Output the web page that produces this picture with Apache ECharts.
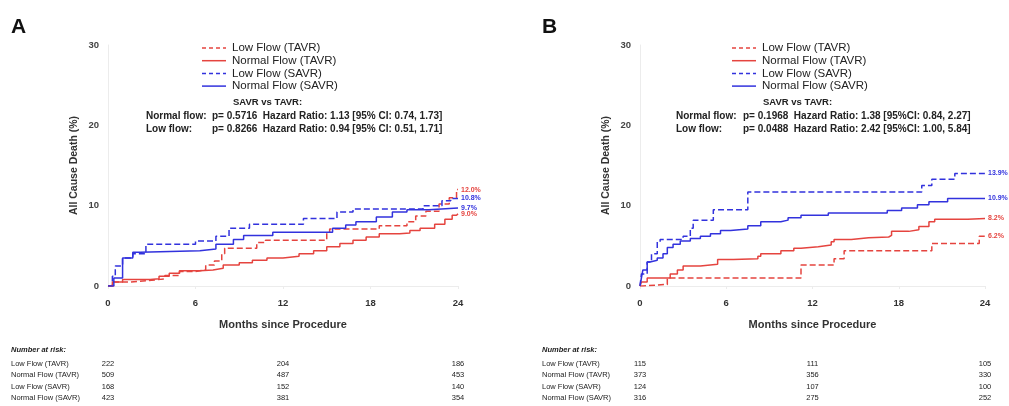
<!DOCTYPE html>
<html>
<head>
<meta charset="UTF-8">
<title>All Cause Death - TAVR vs SAVR</title>
<script src="https://cdn.jsdelivr.net/npm/echarts@6/dist/echarts.min.js"></script>
<style>
    body { margin: 0; background: #fff; }
    #root { width: 1009px; height: 406px; }
</style>
</head>
<body>
<div id="root"></div>
<script>
    // series names (legend order)
    var seriesNames = ['Low Flow (TAVR)', 'Normal Flow (TAVR)', 'Low Flow (SAVR)', 'Normal Flow (SAVR)'];

    // panel A: [month, cumulative death %]
    var aLowTavr = [[0,0],[0.4,0.5],[1.5,0.7],[3,0.9],[3.9,1.3],[4.9,1.8],[6,2.0],[6.7,2.6],[7.3,3.1],[7.8,4.0],[8.0,4.7],[10.2,5.4],[10.8,5.7],[15.0,6.7],[15.2,7.1],[18.6,7.5],[20.5,8.0],[21.1,8.7],[21.8,9.3],[22.7,10.2],[23.4,11.0],[23.9,12.0],[24,12.0]];
    var aNormTavr = [[0,0],[0.3,0.5],[1,0.8],[2.9,0.9],[3.5,1.2],[4.2,1.6],[4.9,1.9],[6.3,2.0],[7.2,2.2],[7.9,2.6],[9,2.9],[9.9,3.2],[10.9,3.5],[12,3.7],[13.1,4.0],[14.1,4.4],[15,4.9],[15.9,5.3],[16.8,5.7],[17.7,6.1],[18.6,6.5],[20,6.6],[20.7,6.9],[21.4,7.2],[22.4,7.7],[23.1,8.3],[23.6,8.8],[23.9,9.0],[24,9.0]];
    var aLowSavr = [[0,0],[0.3,1.2],[0.5,2.5],[1.0,3.5],[1.7,4.0],[2.6,5.2],[6,5.6],[7.4,6.2],[8.3,7.2],[9.7,7.7],[13.4,8.4],[15.7,9.2],[16.8,9.6],[21.6,10.0],[22.9,10.6],[23.5,10.9],[24,10.9]];
    var aNormSavr = [[0,0],[0.4,1.0],[1.0,3.5],[1.7,4.2],[2.2,4.4],[6.3,4.6],[7.4,5.2],[8.6,5.8],[9.3,6.3],[11.3,6.7],[15.4,7.2],[16.3,7.6],[17,8.0],[18.4,8.6],[19.5,9.2],[20.5,9.5],[22,9.7],[24,9.7]];
    var aEndLabels = ['12.0%', '9.0%', '10.8%', '9.7%'];

    // panel B
    var bLowTavr = [[0,0],[0.2,0.2],[1.9,1.0],[11.2,2.6],[13.5,3.4],[14.2,4.4],[20.3,5.3],[23.6,6.2],[24,6.2]];
    var bNormTavr = [[0,0],[0.1,0.5],[0.5,1.0],[2.1,1.5],[2.6,2.0],[3.0,2.5],[4.2,2.7],[5.4,3.3],[6.5,3.4],[8.2,3.7],[8.4,4.0],[9.8,4.4],[10.7,4.7],[11.2,4.9],[12.4,5.1],[13.3,5.5],[13.5,5.8],[14.7,6.0],[15.9,6.1],[17.3,6.3],[17.5,6.8],[18.7,7.0],[19.4,7.4],[20.1,8.0],[20.5,8.3],[22.8,8.4],[24,8.4]];
    var bLowSavr = [[0,0],[0.1,1.5],[0.5,3.0],[0.8,4.0],[1.2,5.5],[1.4,5.8],[3.0,6.2],[3.5,7.2],[3.7,8.2],[5.1,9.5],[7.5,11.7],[19.6,12.5],[20.3,13.3],[21.9,14.0],[24,14.0]];
    var bNormSavr = [[0,0],[0.1,1.0],[0.2,2.0],[0.5,3.0],[0.7,3.2],[1.2,3.5],[1.6,4.0],[1.9,4.8],[2.3,5.2],[2.8,5.6],[3.5,5.9],[4.2,6.2],[4.9,6.5],[5.6,6.9],[6.3,7.1],[7.5,7.5],[8.4,8.0],[9.8,8.2],[10.3,8.5],[11.2,8.8],[13.1,9.1],[17.2,9.4],[18.2,9.7],[19.3,10.1],[20.1,10.5],[21.4,10.9],[24,10.9]];
    var bEndLabels = ['6.2%', '8.2%', '13.9%', '10.9%'];

    // stats text
    var aStats = [
        ['Normal flow:', 'p= 0.5716  Hazard Ratio: 1.13 [95% CI: 0.74, 1.73]'],
        ['Low flow:', 'p= 0.8266  Hazard Ratio: 0.94 [95% CI: 0.51, 1.71]']
    ];
    var bStats = [
        ['Normal flow:', 'p= 0.1968  Hazard Ratio: 1.38 [95%CI: 0.84, 2.27]'],
        ['Low flow:', 'p= 0.0488  Hazard Ratio: 2.42 [95%CI: 1.00, 5.84]']
    ];

    // number at risk (months 0, 12, 24)
    var riskMonths = [0, 12, 24];
    var aRisk = [[222, 204, 186], [509, 487, 453], [168, 152, 140], [423, 381, 354]];
    var bRisk = [[115, 111, 105], [373, 356, 330], [124, 107, 100], [316, 275, 252]];

    var RED = '#e5443f';
    var BLUE = '#3232dd';
    var FONT = 'Liberation Sans, Arial, sans-serif';

    var colors = [RED, RED, BLUE, BLUE];
    var dashes = ['dashed', 'solid', 'dashed', 'solid'];

    function makeSeries(idx, datas, ends) {
        return datas.map(function (d, i) {
            return {
                name: seriesNames[i],
                type: 'line',
                xAxisIndex: idx,
                yAxisIndex: idx,
                step: 'end',
                symbol: 'none',
                data: d,
                lineStyle: { color: colors[i], width: 1.5, type: dashes[i] },
                itemStyle: { color: colors[i] },
                endLabel: {
                    show: true,
                    formatter: ends[i],
                    color: colors[i],
                    fontSize: 7,
                    fontWeight: 'bold',
                    fontFamily: FONT,
                    distance: 3
                },
                z: i === 1 || i === 3 ? 3 : 2
            };
        });
    }

    function xAx(idx) {
        return {
            gridIndex: idx, type: 'value', min: 0, max: 24, interval: 6,
            offset: 3,
            name: 'Months since Procedure', nameLocation: 'middle', nameGap: 30,
            nameTextStyle: { fontSize: 11, fontWeight: 'bold', color: '#333', fontFamily: FONT },
            axisLine: { show: true, lineStyle: { color: '#ececec' } },
            axisTick: { show: true, length: 3, lineStyle: { color: '#ececec' } },
            axisLabel: { fontSize: 9.5, fontWeight: 'bold', color: '#333', fontFamily: FONT, margin: 9 },
            splitLine: { show: false }
        };
    }
    function yAx(idx) {
        return {
            gridIndex: idx, type: 'value', min: 0, max: 30, interval: 10,
            name: 'All Cause Death (%)', nameLocation: 'middle', nameGap: 28,
            nameTextStyle: { fontSize: 10.5, fontWeight: 'bold', color: '#333', fontFamily: FONT },
            axisLine: { show: true, lineStyle: { color: '#ececec' } },
            axisTick: { show: false },
            axisLabel: { fontSize: 9.5, fontWeight: 'bold', color: '#444', fontFamily: FONT, margin: 9 },
            splitLine: { show: false }
        };
    }

    var chart = echarts.init(document.getElementById('root'));
    chart.setOption({
        animation: false,
        grid: [
            { left: 108, top: 45, width: 350, height: 241 },
            { left: 640, top: 45, width: 345, height: 241 }
        ],
        xAxis: [xAx(0), xAx(1)],
        yAxis: [yAx(0), yAx(1)],
        series: makeSeries(0, [aLowTavr, aNormTavr, aLowSavr, aNormSavr], aEndLabels)
            .concat(makeSeries(1, [bLowTavr, bNormTavr, bLowSavr, bNormSavr], bEndLabels))
    });

    // text overlays: panel letters, legend keys, stats, number-at-risk table
    var g = [];
    function txt(x, y, s, style) {
        g.push({
            type: 'text', x: x, y: y,
            style: Object.assign({
                text: s, fontFamily: FONT, fill: '#222', fontSize: 10, fontWeight: 'bold',
                verticalAlign: 'middle'
            }, style || {})
        });
    }
    function panelText(letterX, letter, legX, valX, stats, tableX, risk, gridIdx) {
        txt(letterX, 27, letter, { fontSize: 21, fill: '#111' });
        // legend keys
        seriesNames.forEach(function (name, i) {
            var y = 48 + i * 12.7;
            g.push({
                type: 'line',
                shape: { x1: legX, y1: y, x2: legX + 24, y2: y },
                style: { stroke: colors[i], lineWidth: 1.5, lineDash: dashes[i] === 'dashed' ? [4, 3] : null }
            });
            txt(legX + 30, y, name, { fontSize: 11.5, fontWeight: 'normal', fill: '#222' });
        });
        txt(legX + 31, 102, 'SAVR vs TAVR:', { fontSize: 9.5 });
        stats.forEach(function (s, i) {
            txt(legX - 56, 116 + i * 13, s[0]);
            txt(valX, 116 + i * 13, s[1]);
        });
        txt(tableX, 350, 'Number at risk:', { fontSize: 7.5, fontStyle: 'italic' });
        risk.forEach(function (row, r) {
            var y = 364 + r * 11.4;
            txt(tableX, y, seriesNames[r], { fontSize: 7.5, fontWeight: 'normal' });
            row.forEach(function (v, c) {
                var px = chart.convertToPixel({ xAxisIndex: gridIdx }, riskMonths[c]);
                txt(px, y, String(v), { fontSize: 7.5, fontWeight: 'normal', align: 'center' });
            });
        });
    }
    panelText(11, 'A', 202, 212, aStats, 11, aRisk, 0);
    panelText(542, 'B', 732, 743, bStats, 542, bRisk, 1);

    chart.setOption({ graphic: g });
</script>
</body>
</html>
